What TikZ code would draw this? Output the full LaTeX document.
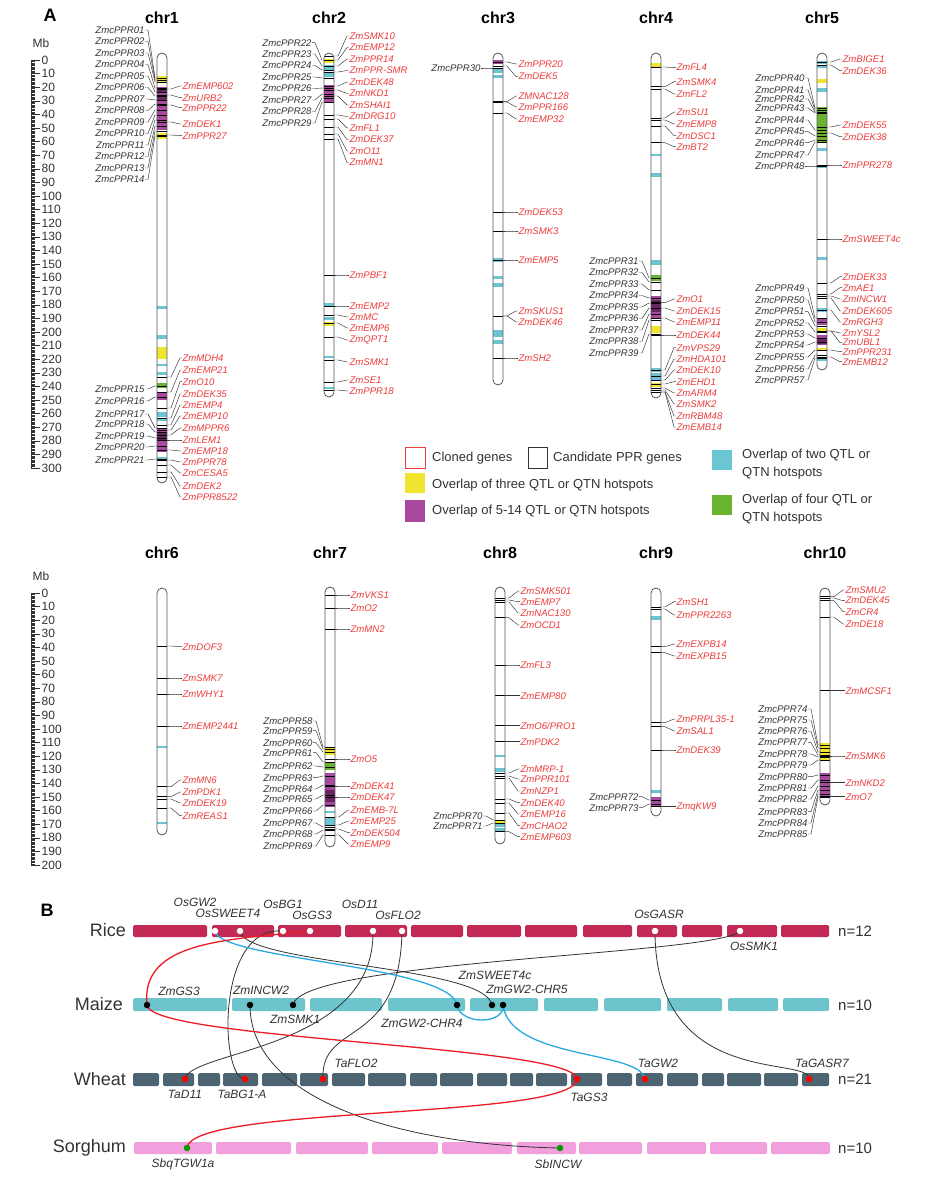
\documentclass[tikz,border=0pt]{standalone}
\usepackage{fontspec}
\setmainfont{Liberation Sans}
\usetikzlibrary{positioning}
\definecolor{labgray}{HTML}{333333}
\definecolor{labred}{HTML}{EE3B3B}
\definecolor{chrgray}{HTML}{555555}
\definecolor{yel}{HTML}{F0E431}
\definecolor{pur}{HTML}{A8489F}
\definecolor{dpur}{HTML}{6A2466}
\definecolor{cya}{HTML}{6CC5D3}
\definecolor{grn}{HTML}{6AB32E}
\definecolor{ricecol}{HTML}{C22A55}
\definecolor{maizecol}{HTML}{6EC4CC}
\definecolor{wheatcol}{HTML}{4D6572}
\definecolor{sorghcol}{HTML}{F29FDD}
\definecolor{linkblue}{HTML}{29A9E1}
\definecolor{linkred}{HTML}{EE1C24}

% bands of one chromosome: from/to/colour
\newcommand{\bandset}[2]{%
  \foreach \ya/\yb/\cc in {#2} {\fill[\cc] (#1-5,\ya) rectangle (#1+5,\yb);}}
% genes on the left: label/label y/gene y
\newcommand{\leftgenes}[3]{%
  \foreach[count=\gi] \gname/\yl/\ym in {#3} {
    \draw[geneline] (#2-5,\ym) -- (#2+5,\ym);
    \node[lblL] (#1L\gi) at (#2-17,\yl) {\gname};
    \draw[leader] (#1L\gi.east) -- ++(3,0) -- (#2-7,\ym) -- (#2-5,\ym);}}
% genes on the right
\newcommand{\rightgenes}[3]{%
  \foreach[count=\gi] \gname/\yl/\ym in {#3} {
    \draw[geneline] (#2-5,\ym) -- (#2+5,\ym);
    \node[lblR] (#1R\gi) at (#2+20,\yl) {\gname};
    \draw[leader] (#1R\gi.west) -- ++(-2,0) -- (#2+9,\ym) -- (#2+5,\ym);}}
\newcommand{\chromosome}[5]{%
  \draw[chromo] (#2-5,#3) rectangle (#2+5,#4);
  \node[chrtitle] (#1) at (#2,#5) {#1};}
% Mb ruler: zero y, last value
\newcommand{\mbscale}[2]{%
  \draw[labgray, line width=0.5pt] (31,#1) -- (31,{#1+1.36*#2});
  \foreach \m in {0,...,#2} \draw[labgray, line width=0.3pt] (31,{#1+1.36*\m}) -- (35,{#1+1.36*\m});
  \foreach \m in {0,10,...,#2} {
    \draw[labgray, line width=0.5pt] (31,{#1+1.36*\m}) -- (40,{#1+1.36*\m});
    \node[mbnum] at (41,{#1+1.36*\m}) {\m};}
  \node[mbnum, anchor=center] at (41,#1-17) {Mb};}

\begin{document}
\begin{tikzpicture}[x=1pt, y=-1pt,
  lblL/.style={anchor=east, inner sep=0.3pt, text=labgray, font=\fontsize{9.6}{10}\selectfont\itshape},
  lblR/.style={anchor=west, inner sep=0.3pt, text=labred, font=\fontsize{9.6}{10}\selectfont\itshape},
  leader/.style={draw=labgray, line width=0.45pt},
  geneline/.style={draw=black, line width=0.6pt},
  chromo/.style={draw=chrgray, line width=0.8pt, rounded corners=5pt},
  chrtitle/.style={font=\fontsize{16}{18}\selectfont\bfseries},
  panel/.style={font=\fontsize{18}{20}\selectfont\bfseries},
  mbnum/.style={anchor=west, inner sep=0.5pt, text=labgray, font=\fontsize{12}{12}\selectfont},
  legtext/.style={anchor=west, inner sep=0pt, text=labgray, font=\fontsize{13}{18}\selectfont, align=left},
  species/.style={anchor=east, inner sep=0pt, text=labgray, font=\fontsize{18}{20}\selectfont},
  nlabel/.style={anchor=west, inner sep=0pt, text=labgray, font=\fontsize{15}{16}\selectfont},
  glab/.style={inner sep=0.5pt, text=labgray, font=\fontsize{12}{13}\selectfont\itshape},
  link/.style={draw=labgray, line width=0.8pt},
  redlink/.style={draw=linkred, line width=1.3pt},
  bluelink/.style={draw=linkblue, line width=1.3pt},
  gdot/.style={circle, inner sep=0pt, minimum size=6.5pt}
]
\useasboundingbox (0,0) rectangle (936,1182);
\fill[white] (0,0) rectangle (936,1182);

%% panel A
\node[panel] (panA) at (50,15) {A};
\mbscale{60}{300}
\mbscale{593}{200}

% chr1
\bandset{162}{76/82/yel, 87/130/pur, 88/92/dpur, 96/101/dpur, 133/139/yel, 306/309/cya, 335/339/cya, 347/359/yel, 364/366/cya, 372/375/cya, 383/388/grn, 392/400/pur, 412/417/cya, 419/421/cya, 428/452/pur, 432/440/dpur, 457/459/cya}
\leftgenes{chr1}{162}{ZmcPPR01/30/78, ZmcPPR02/41.5/80, ZmcPPR03/53/82, ZmcPPR04/64.5/88, ZmcPPR05/76/92, ZmcPPR06/87.5/96, ZmcPPR07/99/100, ZmcPPR08/110.5/104, ZmcPPR09/122/110, ZmcPPR10/133.5/115, ZmcPPR11/145/120, ZmcPPR12/156.5/126, ZmcPPR13/168/131, ZmcPPR14/179.5/136, ZmcPPR15/389/386, ZmcPPR16/401/397, ZmcPPR17/414/428, ZmcPPR18/424/432, ZmcPPR19/436/438, ZmcPPR20/447/446, ZmcPPR21/460/459}
\rightgenes{chr1}{162}{ZmEMP602/86/89, ZmURB2/97.7/95, ZmPPR22/107.7/105, ZmDEK1/124/122, ZmPPR27/135.7/135, ZmMDH4/358/377, ZmEMP21/370/392, ZmO10/381.7/408, ZmDEK35/394/418, ZmEMP4/405/425, ZmEMP10/416/430, ZmMPPR6/428/435, ZmLEM1/440/440, ZmEMP18/451/450, ZmPPR78/462/460, ZmCESA5/473/465, ZmDEK2/486/472, ZmPPR8522/497/477}
\chromosome{chr1}{162}{53}{483}{18}

% chr2
\bandset{329}{59/63/yel, 65/70/cya, 73/77/cya, 85/103/pur, 303/307/cya, 317/320/cya, 322/326/yel, 356/358/cya, 387/389/cya}
\leftgenes{chr2}{329}{ZmcPPR22/42.7/60, ZmcPPR23/54/66, ZmcPPR24/65.5/70, ZmcPPR25/77/78, ZmcPPR26/88.5/88, ZmcPPR27/100/94, ZmcPPR28/111.5/98, ZmcPPR29/123/102}
\rightgenes{chr2}{329}{ZmSMK10/36/56, ZmEMP12/47.5/60, ZmPPR14/59/66, ZmPPR-SMR/70.5/72, ZmDEK48/82/86, ZmNKD1/93.5/90, ZmSHAI1/105/96, ZmDRG10/116.5/115, ZmFL1/128/119, ZmDEK37/139.5/127, ZmO11/151/134, ZmMN1/162.5/139, ZmPBF1/275/275, ZmEMP2/306/306, ZmMC/317/315, ZmEMP6/328/323, ZmQPT1/340/337, ZmSMK1/362/360, ZmSE1/380/382, ZmPPR18/391/390}
\chromosome{chr2}{329}{53}{397}{18}

% chr3
\bandset{498}{60/64/pur, 68/73/cya, 75/78/cya, 258/262/cya, 276/279/cya, 283/287/cya, 330/337/cya, 340/344/cya}
\leftgenes{chr3}{498}{ZmcPPR30/68/68}
\rightgenes{chr3}{498}{ZmPPR20/64/62, ZmDEK5/76.7/66, ZMNAC128/96/101.7, ZmPPR166/107/102, ZmEMP32/119/113, ZmDEK53/212/212, ZmSMK3/231/231, ZmEMP5/260/260, ZmSKUS1/311/316, ZmDEK46/322/316, ZmSH2/358/358}
\chromosome{chr3}{498}{53}{385}{18}

% chr4
\bandset{656}{63/68/yel, 154/156/cya, 173/177/cya, 260/265/cya, 275/281/grn, 296/318/pur, 300/312/dpur, 326/333/yel, 368/372/cya, 373/380/cya, 383/387/yel}
\leftgenes{chr4}{656}{ZmcPPR31/261/278, ZmcPPR32/272.5/282, ZmcPPR33/284/290, ZmcPPR34/295.5/298, ZmcPPR35/307/303, ZmcPPR36/318.5/308, ZmcPPR37/330/314, ZmcPPR38/341.5/320, ZmcPPR39/353/334}
\rightgenes{chr4}{656}{ZmFL4/67.7/67, ZmSMK4/81.7/86.7, ZmFL2/94/89, ZmSU1/112/118, ZmEMP8/124/120, ZmDSC1/135.7/126, ZmBT2/146.7/142.7, ZmO1/299/302.7, ZmDEK15/311/308, ZmEMP11/322/318, ZmDEK44/335/335, ZmVPS29/347.7/370, ZmHDA101/359/376, ZmDEK10/370/380, ZmEHD1/381.7/384, ZmARM4/393/388, ZmSMK2/404/390, ZmRBM48/416/392, ZmEMB14/427/392}
\chromosome{chr4}{656}{53}{398}{18}

% chr5
\bandset{822}{61/64/cya, 66/68/cya, 79/83/yel, 88/92/cya, 107/143/grn, 148/151/cya, 165/168/cya, 257/260/cya, 308/312/cya, 318/325/pur, 328/331/yel, 335/345/pur, 338/344/dpur, 348/350/yel, 358/361/cya}
\leftgenes{chr5}{822}{ZmcPPR40/78/108, ZmcPPR41/90/110, ZmcPPR42/99/112, ZmcPPR43/108/113, ZmcPPR44/120/130, ZmcPPR45/131.7/136, ZmcPPR46/142.7/140, ZmcPPR47/155/142, ZmcPPR48/166/166, ZmcPPR49/288/318, ZmcPPR50/300/322, ZmcPPR51/311.7/326, ZmcPPR52/323/332, ZmcPPR53/334/338, ZmcPPR54/345/342, ZmcPPR55/357/350, ZmcPPR56/369/355, ZmcPPR57/380/358}
\rightgenes{chr5}{822}{ZmBIGE1/59/62, ZmDEK36/70.7/65, ZmDEK55/125/127, ZmDEK38/136.7/133, ZmPPR278/165/165, ZmSWEET4c/239/239, ZmDEK33/276.7/283, ZmAE1/287.7/294, ZmINCW1/299/296, ZmDEK605/311/298, ZmRGH3/322/310, ZmYSL2/333/331, ZmUBL1/342.7/331, ZmPPR231/351.7/350, ZmEMB12/361.7/357}
\chromosome{chr5}{822}{53}{370}{18}

% chr6
\bandset{162}{746/748/cya, 822/824/cya}
\rightgenes{chr6}{162}{ZmDOF3/646.7/646, ZmSMK7/678/678, ZmWHY1/694/694, ZmEMP2441/726/726, ZmMN6/780/786.7, ZmPDK1/792/796.7, ZmDEK19/803/799, ZmREAS1/815.7/808}
\chromosome{chr6}{162}{588}{835}{553}

% chr7
\bandset{330}{747/755/yel, 763/770/grn, 773/807/pur, 790/802/dpur, 811/813/cya, 817/825/cya}
\leftgenes{chr7}{330}{ZmcPPR58/721/747, ZmcPPR59/730.7/749, ZmcPPR60/742.7/752, ZmcPPR61/752.7/762, ZmcPPR62/766/767, ZmcPPR63/777.7/776, ZmcPPR64/789/785, ZmcPPR65/799/795, ZmcPPR66/811/805, ZmcPPR67/823/827, ZmcPPR68/834/830, ZmcPPR69/846/835}
\rightgenes{chr7}{330}{ZmVKS1/595/595, ZmO2/608/608, ZmMN2/629/629, ZmO5/759/759, ZmDEK41/786/786, ZmDEK47/797/797, ZmEMB-7L/810/817, ZmEMP25/821/825, ZmDEK504/832.7/829, ZmEMP9/844/835}
\chromosome{chr7}{330}{587}{847}{553}

% chr8
\bandset{500}{755/757/cya, 768/772/cya, 820/823/yel, 823/827/cya, 828/832/cya}
\leftgenes{chr8}{500}{ZmcPPR70/816/820, ZmcPPR71/826/823}
\rightgenes{chr8}{500}{ZmSMK501/591/598, ZmEMP7/601.7/600, ZmNAC130/613/602, ZmOCD1/625/617.7, ZmFL3/665/665, ZmEMP80/695.7/695.7, {ZmO6/PRO1}/725.7/725.7, ZmPDK2/741.7/741.7, ZmMRP-1/769/773, ZmPPR101/779/776, ZmNZP1/791/778, ZmDEK40/802.7/799, ZmEMP16/814/803, ZmCHAO2/825.7/813, ZmEMP603/836.7/831.7}
\chromosome{chr8}{500}{587}{844}{553}

% chr9
\bandset{656}{616/620/cya, 790/793/cya, 797/806/pur}
\leftgenes{chr9}{656}{ZmcPPR72/796.7/800, ZmcPPR73/807.7/804}
\rightgenes{chr9}{656}{ZmSH1/601.7/607, ZmPPR2263/615/609, ZmEXPB14/644/646.7, ZmEXPB15/656/652.7, ZmPRPL35-1/719/722.7, ZmSAL1/731/726.7, ZmDEK39/750/750, ZmqKW9/806.7/806.7}
\chromosome{chr9}{656}{588}{816}{553}

% chr10
\bandset{825}{743/760/yel, 773/797/pur}
\leftgenes{chr10}{825}{ZmcPPR74/709/745, ZmcPPR75/720/748, ZmcPPR76/731.5/752, ZmcPPR77/742.7/755, ZmcPPR78/754/757, ZmcPPR79/765/760, ZmcPPR80/776.7/775, ZmcPPR81/788/780, ZmcPPR82/799/786, ZmcPPR83/811.7/790, ZmcPPR84/823/794, ZmcPPR85/834/797}
\rightgenes{chr10}{825}{ZmSMU2/590/596.7, ZmDEK45/600.7/598, ZmCR4/611.7/600.7, ZmDE18/624/617, ZmMCSF1/690.7/690.7, ZmSMK6/756/756, ZmNKD2/782.7/782.7, ZmO7/796.7/796.7}
\chromosome{chr10}{825}{588}{805}{553}

% legend
\draw[draw=labred, fill=white, line width=0.6pt] (405,447) rectangle (425,468);
\node[legtext] (legcloned) at (432,458) {Cloned genes};
\draw[draw=labgray, line width=0.6pt] (528,447) rectangle (547,468);
\node[legtext] (legppr) at (553,458) {Candidate PPR genes};
\fill[yel] (405,473) rectangle (425,493);
\node[legtext] (legthree) at (432,485) {Overlap of three QTL or QTN hotspots};
\fill[pur] (405,500) rectangle (425,522);
\node[legtext] (legmany) at (432,511) {Overlap of 5-14 QTL or QTN hotspots};
\fill[cya] (712,450) rectangle (732,470);
\node[legtext] (legtwo) at (742,464) {Overlap of two QTL or\\QTN hotspots};
\fill[grn] (712,495) rectangle (732,515);
\node[legtext] (legfour) at (742,509) {Overlap of four QTL or\\QTN hotspots};

%% panel B
\node[panel] (panB) at (47,910) {B};
\foreach \a/\b in {133/207, 212/274, 278/341, 345/407, 411/463, 467/521, 525/577, 583/632, 637/677, 682/722, 727/777, 781/829}
  \fill[ricecol, rounded corners=1.5pt] (\a,925) rectangle (\b,937);
\foreach \a/\b in {133/227, 232/305, 310/382, 388/465, 470/538, 544/598, 604/661, 667/722, 728/778, 783/829}
  \fill[maizecol, rounded corners=1.5pt] (\a,998) rectangle (\b,1011);
\foreach \a/\b in {133/159, 163/194, 198/220, 223/258, 262/297, 300/328, 332/365, 368/406, 410/437, 440/473, 477/507, 510/533, 536/567, 571/602, 607/632, 636/663, 667/698, 702/724, 727/761, 764/798, 802/829}
  \fill[wheatcol, rounded corners=1.5pt] (\a,1073) rectangle (\b,1086);
\foreach \a/\b in {134/212, 216/291, 296/368, 372/438, 442/512, 517/576, 579/642, 647/706, 710/767, 771/830}
  \fill[sorghcol, rounded corners=1.5pt] (\a,1142) rectangle (\b,1154);

\node[species] (rice) at (126,930) {Rice};
\node[species] (maize) at (123,1004) {Maize};
\node[species] (wheat) at (126,1079) {Wheat};
\node[species] (sorghum) at (126,1148) {Sorghum};
\node[nlabel] (nrice) at (838,931) {n=12};
\node[nlabel] (nmaize) at (838,1005) {n=10};
\node[nlabel] (nwheat) at (838,1079) {n=21};
\node[nlabel] (nsorghum) at (838,1148) {n=10};

% gene positions
\coordinate (OsGW2) at (215,931);
\coordinate (OsSWEET4) at (240,931);
\coordinate (OsBG1) at (283,931);
\coordinate (OsGS3) at (310,931);
\coordinate (OsD11) at (373,931);
\coordinate (OsFLO2) at (402,931);
\coordinate (OsGASR) at (655,931);
\coordinate (OsSMK1) at (740,931);
\coordinate (ZmGS3) at (147,1005);
\coordinate (ZmINCW2) at (250,1005);
\coordinate (ZmSMK1) at (293,1005);
\coordinate (ZmGW2-CHR4) at (457,1005);
\coordinate (ZmSWEET4c) at (492,1005);
\coordinate (ZmGW2-CHR5) at (503,1005);
\coordinate (TaD11) at (185,1079);
\coordinate (TaBG1-A) at (245,1079);
\coordinate (TaFLO2) at (323,1079);
\coordinate (TaGS3) at (577,1079);
\coordinate (TaGW2) at (645,1079);
\coordinate (TaGASR7) at (809,1079);
\coordinate (SbqTGW1a) at (187,1148);
\coordinate (SbINCW) at (560,1148);

% links
\draw[link] (OsSWEET4) .. controls (245,965) and (485,965) .. (ZmSWEET4c);
\draw[link] (OsBG1) .. controls (215,925) and (220,1080) .. (TaBG1-A);
\draw[link] (OsD11) .. controls (375,1050) and (190,1050) .. (TaD11);
\draw[link] (OsFLO2) .. controls (400,1050) and (320,1020) .. (TaFLO2);
\draw[link] (OsSMK1) .. controls (720,955) and (300,960) .. (ZmSMK1);
\draw[link] (OsGASR) .. controls (655,1090) and (810,1055) .. (TaGASR7);
\draw[link] (ZmINCW2) .. controls (250,1100) and (400,1145) .. (SbINCW);
\draw[bluelink] (OsGW2) .. controls (220,960) and (450,965) .. (ZmGW2-CHR4);
\draw[bluelink] (ZmGW2-CHR4) .. controls (460,1025) and (505,1025) .. (ZmGW2-CHR5);
\draw[bluelink] (ZmGW2-CHR5) .. controls (510,1060) and (640,1050) .. (TaGW2);
\draw[redlink] (OsGS3) .. controls (230,940) and (140,940) .. (ZmGS3);
\draw[redlink] (ZmGS3) .. controls (150,1040) and (575,1045) .. (TaGS3);
\draw[redlink] (TaGS3) .. controls (575,1120) and (190,1105) .. (SbqTGW1a);

% dots
\foreach \p in {OsGW2, OsSWEET4, OsBG1, OsGS3, OsD11, OsFLO2, OsGASR, OsSMK1}
  \node[gdot, fill=white] at (\p) {};
\foreach \p in {ZmGS3, ZmINCW2, ZmSMK1, ZmGW2-CHR4, ZmSWEET4c, ZmGW2-CHR5}
  \node[gdot, fill=black] at (\p) {};
\foreach \p in {TaD11, TaBG1-A, TaFLO2, TaGS3, TaGW2, TaGASR7}
  \node[gdot, fill=red] at (\p) {};
\foreach \p in {SbqTGW1a, SbINCW}
  \node[gdot, fill=green!60!black] at (\p) {};

% gene labels
\foreach \t/\lx/\ly in {OsGW2/195/902, OsSWEET4/228/913, OsBG1/283/904, OsGS3/312/915, OsD11/360/904, OsFLO2/398/915, OsGASR/659/914, OsSMK1/754/946, ZmGS3/179/991, ZmINCW2/261/990, ZmSMK1/295/1019, ZmGW2-CHR4/422/1023, ZmSWEET4c/495/975, ZmGW2-CHR5/527/989, TaD11/185/1094, TaBG1-A/242/1094, TaFLO2/356/1063, TaGS3/589/1097, TaGW2/658/1063, TaGASR7/822/1063, SbqTGW1a/183/1164, SbINCW/558/1164}
  \node[glab] (l\t) at (\lx,\ly) {\t};
\end{tikzpicture}
\end{document}
